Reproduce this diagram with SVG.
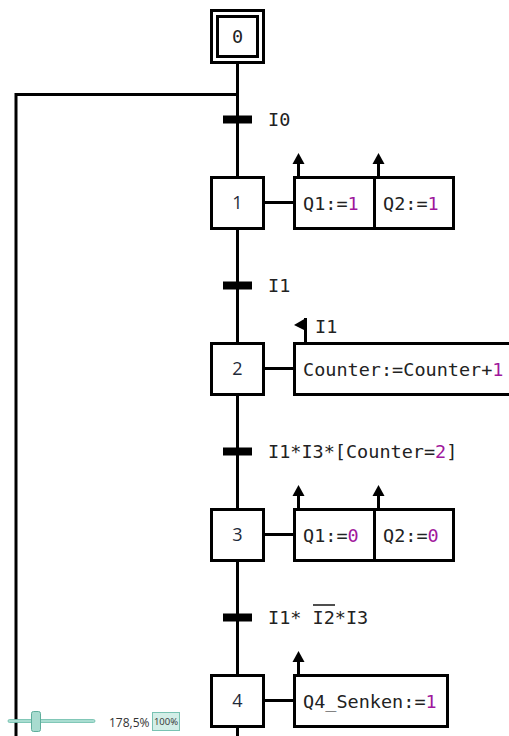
<svg xmlns="http://www.w3.org/2000/svg" width="509" height="736" viewBox="0 0 509 736">
  <style>
    .bg { fill: #ffffff; }
    .box { fill: #ffffff; stroke: #000000; stroke-width: 3; }
    .wire { fill: none; stroke: #000000; stroke-width: 3; }
    .bar { fill: #000000; }
    .head { fill: #000000; }
    .mono { font-family: "DejaVu Sans Mono", "Liberation Mono", monospace; font-size: 18.5px; fill: #222222; }
    .num { font-family: "Open Sans", "Noto Sans", sans-serif; font-size: 18px; fill: #1e2a3a; text-anchor: middle; }
    .val { fill: #a0179c; }
    .ui { font-family: "Open Sans", "Liberation Sans", sans-serif; fill: #333333; }
  </style>

  <rect class="bg" x="0" y="0" width="509" height="736"/>

  <!-- connectors: main chain, loop-back and action links -->
  <g id="connectors">
    <path class="wire" d="M237.5 64 V736"/>
    <path class="wire" d="M237.5 94.5 H16 V736"/>
    <path class="wire" d="M264 202.5 H293"/>
    <path class="wire" d="M264 368.5 H293"/>
    <path class="wire" d="M264 534.5 H293"/>
    <path class="wire" d="M264 700.5 H293"/>
  </g>

  <!-- initial step -->
  <g id="step0">
    <rect class="box" x="211.5" y="10.5" width="52" height="52"/>
    <rect class="box" x="217.5" y="16.5" width="40" height="40"/>
    <text class="mono" x="237.5" y="43" text-anchor="middle" font-size="17px">0</text>
  </g>

  <!-- transitions -->
  <g id="t0">
    <rect class="bar" x="223" y="115.5" width="29" height="8"/>
    <text class="mono" x="268" y="126">I0</text>
  </g>
  <g id="t1">
    <rect class="bar" x="223" y="281.5" width="29" height="8"/>
    <text class="mono" x="268" y="292">I1</text>
  </g>
  <g id="t2">
    <rect class="bar" x="223" y="447.5" width="29" height="8"/>
    <text class="mono" x="268" y="458">I1*I3*[Counter=<tspan class="val">2</tspan>]</text>
  </g>
  <g id="t3">
    <rect class="bar" x="223" y="613.5" width="29" height="8"/>
    <text class="mono" x="268" y="624">I1* I2*I3</text>
    <path d="M313 605 H335" stroke="#222222" stroke-width="1.6"/>
  </g>

  <!-- step 1 -->
  <g id="step1">
    <rect class="box" x="211.5" y="177.5" width="52" height="51"/>
    <text class="num" x="237.5" y="209">1</text>
  </g>
  <g id="action1">
    <rect class="box" x="294.5" y="177.5" width="159" height="51"/>
    <path class="wire" d="M374.5 177 V229"/>
    <path class="wire" d="M298.5 177 V162"/>
    <polygon class="head" points="298.5,153 292.5,164 304.5,164"/>
    <path class="wire" d="M378.5 177 V162"/>
    <polygon class="head" points="378.5,153 372.5,164 384.5,164"/>
    <text class="mono" x="303" y="209.5">Q1:=<tspan class="val">1</tspan></text>
    <text class="mono" x="383" y="209.5">Q2:=<tspan class="val">1</tspan></text>
  </g>

  <!-- step 2 -->
  <g id="step2">
    <rect class="box" x="211.5" y="343.5" width="52" height="51"/>
    <text class="num" x="237.5" y="375">2</text>
  </g>
  <g id="action2">
    <rect class="box" x="294.5" y="343.5" width="240" height="51"/>
    <path class="wire" d="M305.5 343 V318"/>
    <polygon class="head" points="306,318 306,331 294,325"/>
    <text class="mono" x="315" y="333">I1</text>
    <text class="mono" x="303" y="375.5">Counter:=Counter+<tspan class="val">1</tspan></text>
  </g>

  <!-- step 3 -->
  <g id="step3">
    <rect class="box" x="211.5" y="509.5" width="52" height="51"/>
    <text class="num" x="237.5" y="541">3</text>
  </g>
  <g id="action3">
    <rect class="box" x="294.5" y="509.5" width="159" height="51"/>
    <path class="wire" d="M374.5 509 V561"/>
    <path class="wire" d="M298.5 509 V494"/>
    <polygon class="head" points="298.5,485 292.5,496 304.5,496"/>
    <path class="wire" d="M378.5 509 V494"/>
    <polygon class="head" points="378.5,485 372.5,496 384.5,496"/>
    <text class="mono" x="303" y="541.5">Q1:=<tspan class="val">0</tspan></text>
    <text class="mono" x="383" y="541.5">Q2:=<tspan class="val">0</tspan></text>
  </g>

  <!-- step 4 -->
  <g id="step4">
    <rect class="box" x="211.5" y="675.5" width="52" height="51"/>
    <text class="num" x="237.5" y="707">4</text>
  </g>
  <g id="action4">
    <rect class="box" x="294.5" y="675.5" width="153" height="51"/>
    <path class="wire" d="M298.5 675 V660"/>
    <polygon class="head" points="298.5,651 292.5,662 304.5,662"/>
    <text class="mono" x="303" y="707.5">Q4_Senken:=<tspan class="val">1</tspan></text>
  </g>

  <!-- zoom control -->
  <g id="zoom-control">
    <rect x="8" y="719.5" width="87" height="3" rx="1.5" fill="#a9ddd1" stroke="#6cbcaa" stroke-width="0.8"/>
    <rect x="31.5" y="711.5" width="9" height="20" rx="2" fill="#a8dbcf" stroke="#5fae9c" stroke-width="1"/>
    <text class="ui" x="109" y="727" font-size="12px">178,5%</text>
    <rect x="152.5" y="712.5" width="27" height="18" fill="#d3eee7" stroke="#79c2b2" stroke-width="1"/>
    <text class="ui" x="166" y="725" font-size="9.5px" text-anchor="middle">100%</text>
  </g>
</svg>
